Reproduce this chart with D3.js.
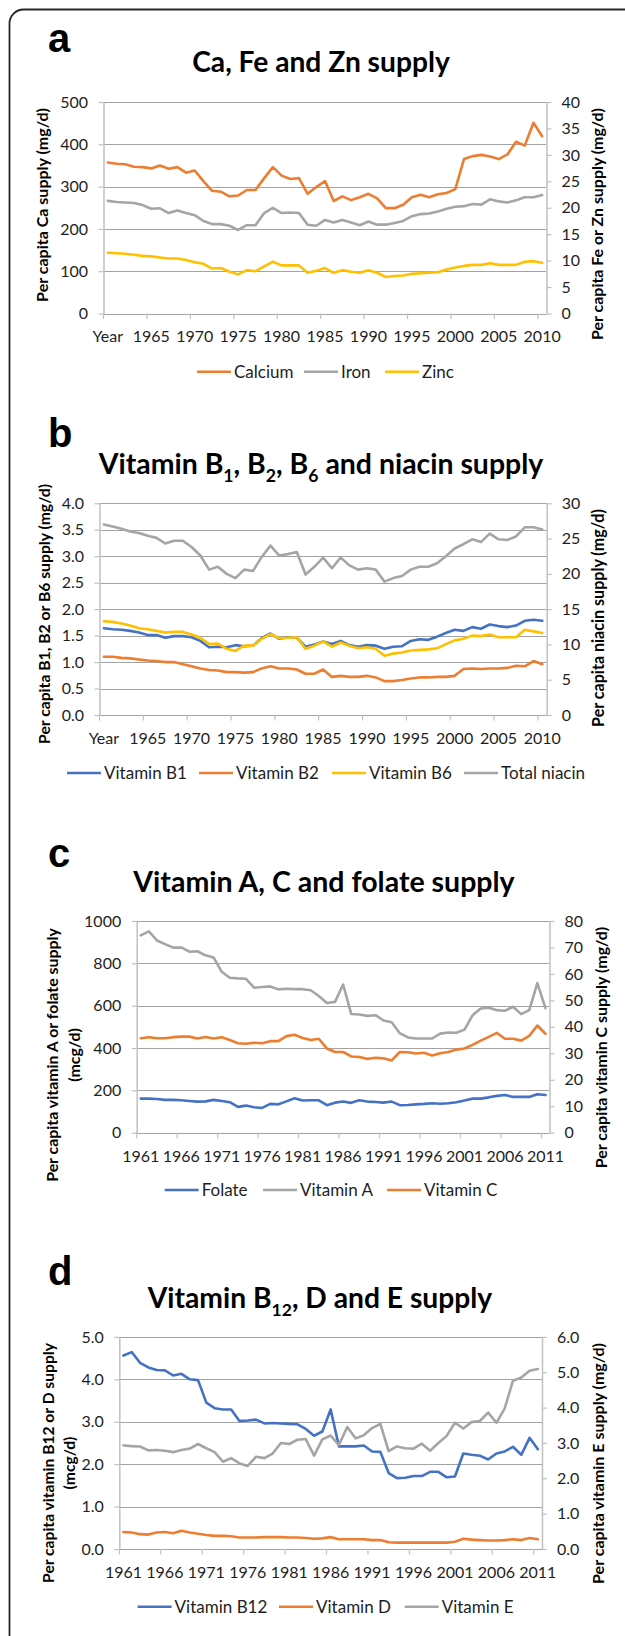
<!DOCTYPE html>
<html><head><meta charset="utf-8">
<script src="https://cdn.jsdelivr.net/npm/d3@7"></script>
<style>body{margin:0;background:#fff}svg{display:block}</style>
</head><body>
<svg id="c" width="625" height="1636"></svg>
<script>
// ---------- DATA ----------
const catsAB = ["Year"].concat(d3.range(1961, 2011).map(String));   // panels a, b
const catsCD = d3.range(1961, 2012).map(String);                    // panels c, d

const calcium = [357,354,353,347,346,343,350,342,346,333, 338,313,290,288,277,279,292,292,320,346, 326,318,320,283,299,313,266,277,268,275, 283,272,249,249,257,275,281,275,282,285, 294,365,372,375,371,365,376,406,397,451, 419];
const iron = [21.3,21.1,21.0,20.9,20.5,19.8,19.9,19.0,19.5,19.0, 18.6,17.5,16.9,16.9,16.6,15.8,16.7,16.7,19.0,20.0, 19.0,19.1,19.0,16.8,16.6,17.7,17.2,17.7,17.2,16.7, 17.4,16.8,16.8,17.1,17.5,18.4,18.8,18.9,19.3,19.8, 20.2,20.3,20.7,20.6,21.6,21.2,21.0,21.4,22.0,22.0, 22.4];
const zinc = [11.5,11.4,11.3,11.1,10.9,10.8,10.6,10.4,10.4,10.1, 9.7,9.4,8.5,8.6,7.9,7.4,8.2,8.0,8.9,9.8, 9.1,9.1,9.1,7.7,8.1,8.6,7.7,8.2,7.9,7.7, 8.2,7.7,6.9,7.1,7.2,7.5,7.6,7.7,7.8,8.3, 8.7,9.0,9.2,9.2,9.5,9.2,9.2,9.2,9.8,9.9, 9.6];

const vitB1 = [1.64,1.62,1.61,1.59,1.56,1.51,1.51,1.46,1.49,1.49, 1.47,1.40,1.28,1.29,1.28,1.32,1.30,1.31,1.45,1.54, 1.44,1.47,1.46,1.29,1.33,1.39,1.34,1.40,1.32,1.29, 1.32,1.31,1.25,1.29,1.30,1.40,1.43,1.42,1.48,1.55, 1.61,1.59,1.66,1.63,1.71,1.68,1.66,1.69,1.78,1.80, 1.78];
const vitB2 = [1.10,1.10,1.08,1.07,1.05,1.03,1.02,1.00,1.00,0.96, 0.92,0.88,0.85,0.84,0.81,0.81,0.80,0.81,0.88,0.92, 0.88,0.88,0.86,0.78,0.78,0.86,0.72,0.74,0.72,0.72, 0.74,0.71,0.64,0.64,0.66,0.69,0.71,0.71,0.72,0.72, 0.74,0.87,0.88,0.87,0.88,0.88,0.89,0.93,0.92,1.02, 0.96];
const vitB6 = [1.77,1.76,1.73,1.69,1.64,1.62,1.59,1.56,1.57,1.57, 1.52,1.46,1.34,1.35,1.25,1.21,1.31,1.31,1.44,1.53, 1.45,1.46,1.47,1.25,1.31,1.39,1.29,1.37,1.31,1.26, 1.28,1.25,1.12,1.16,1.18,1.22,1.23,1.24,1.26,1.34, 1.41,1.44,1.50,1.49,1.52,1.47,1.47,1.47,1.61,1.58, 1.55];
const niacin = [27.0,26.7,26.4,26.0,25.8,25.4,25.1,24.3,24.7,24.7, 23.8,22.6,20.6,21.0,20.0,19.4,20.6,20.4,22.4,24.0, 22.6,22.8,23.1,19.9,21.0,22.3,20.8,22.3,21.2,20.6, 20.8,20.6,18.9,19.4,19.7,20.6,21.0,21.0,21.5,22.5, 23.6,24.2,24.9,24.5,25.7,24.9,24.8,25.3,26.6,26.6, 26.3];

const folate = [161,161,159,155,155,153,150,147,148,155, 150,144,122,128,120,117,136,134,148,163, 152,153,153,130,142,147,141,153,147,145, 142,147,130,131,134,136,139,137,139,144, 152,161,161,167,174,178,169,169,169,182, 178];
const vitA = [932,951,908,891,874,875,855,857,838,828, 760,732,729,727,685,688,691,677,680,678, 678,673,646,613,618,700,561,558,552,555, 530,522,470,450,445,445,445,468,473,472, 487,555,587,590,579,576,595,560,579,707, 588];
const vitC = [35.7,36.1,35.7,35.7,36.1,36.3,36.3,35.6,36.2,35.6, 36.1,35.0,33.8,33.6,34.0,33.8,34.6,34.6,36.5,37.0, 35.8,35.0,35.5,31.8,30.5,30.5,28.8,28.6,27.9,28.3, 28.1,27.3,30.5,30.4,29.9,30.2,29.2,30.0,30.5,31.4, 31.8,33.2,34.8,36.2,37.7,35.5,35.5,34.8,36.6,40.5, 37.4];

const vitB12 = [4.56,4.64,4.39,4.28,4.22,4.21,4.09,4.13,4.00,3.98, 3.45,3.32,3.29,3.29,3.02,3.03,3.05,2.96,2.97,2.96, 2.95,2.94,2.83,2.67,2.77,3.29,2.42,2.42,2.42,2.44, 2.30,2.29,1.79,1.67,1.68,1.72,1.72,1.82,1.82,1.69, 1.71,2.25,2.22,2.20,2.11,2.25,2.30,2.41,2.22,2.62, 2.35];
const vitD = [0.40,0.39,0.35,0.34,0.39,0.40,0.37,0.43,0.39,0.36, 0.33,0.31,0.31,0.30,0.27,0.27,0.27,0.28,0.28,0.28, 0.27,0.27,0.26,0.24,0.25,0.28,0.23,0.23,0.23,0.23, 0.21,0.21,0.16,0.15,0.15,0.15,0.15,0.15,0.15,0.15, 0.17,0.24,0.22,0.21,0.20,0.20,0.21,0.23,0.21,0.26, 0.23];
const vitE = [2.93,2.91,2.90,2.79,2.80,2.78,2.74,2.80,2.84,2.97, 2.85,2.74,2.47,2.57,2.42,2.35,2.61,2.57,2.70,3.00, 2.97,3.09,3.11,2.64,3.10,3.21,2.94,3.45,3.13,3.22, 3.42,3.54,2.77,2.90,2.85,2.84,2.98,2.78,3.00,3.20, 3.57,3.41,3.59,3.62,3.86,3.57,3.98,4.76,4.85,5.04, 5.09];

// tick values
const ticksALeft = [0,100,200,300,400,500];
const ticksARight = [0,5,10,15,20,25,30,35,40];
const ticksBLeft = [0,0.5,1.0,1.5,2.0,2.5,3.0,3.5,4.0];
const ticksBRight = [0,5,10,15,20,25,30];
const ticksCLeft = [0,200,400,600,800,1000];
const ticksCRight = [0,10,20,30,40,50,60,70,80];
const ticksDLeft = [0,1,2,3,4,5];
const ticksDRight = [0,1,2,3,4,5,6];

// ---------- STYLE ----------
const BLUE = "#4472C4", ORANGE = "#ED7D31", GRAY = "#A5A5A5", YELLOW = "#FFC000";
const GRID = "#a3a3a3", AXIS = "#c0c0c0", TXT = "#1e1e1e";
const FONT = "Lato, 'Open Sans', sans-serif";
const TICK_FS = 16, LEG_FS = 17;

const panels = [
  { label: "a", labelX: 48, labelY: 52,
    title: [{t: "Ca, Fe and Zn supply"}], titleX: 321, titleY: 72, titleW: 258,
    cats: catsAB, box: {l: 103.5, r: 546.5, t: 102, b: 313.5}, xLabelY: 340,
    left: {domain: [0, 500], ticks: ticksALeft, fmt: d3.format("d")},
    right: {domain: [0, 40], ticks: ticksARight, fmt: d3.format("d")},
    series: [{name: "Calcium", v: calcium, c: ORANGE, ax: "L"},
             {name: "Iron", v: iron, c: GRAY, ax: "R"},
             {name: "Zinc", v: zinc, c: YELLOW, ax: "R"}],
    legendY: 371.7, legendX: [197, 304, 385],
    lTitle: {lines: ["Per capita Ca supply (mg/d)"], xs: [41.7], cy: 205, len: 194},
    rTitle: {lines: ["Per capita Fe or Zn supply (mg/d)"], xs: [596.7], cy: 224, len: 232} },
  { label: "b", labelX: 48, labelY: 447,
    title: [{t: "Vitamin B"}, {t: "1", sub: 1}, {t: ", B"}, {t: "2", sub: 1}, {t: ", B"}, {t: "6", sub: 1}, {t: " and niacin supply"}],
    titleX: 321, titleY: 474, titleW: 446,
    cats: catsAB, box: {l: 99.5, r: 546.7, t: 503.3, b: 715}, xLabelY: 742.7,
    left: {domain: [0, 4], ticks: ticksBLeft, fmt: d3.format(".1f")},
    right: {domain: [0, 30], ticks: ticksBRight, fmt: d3.format("d")},
    series: [{name: "Vitamin B1", v: vitB1, c: BLUE, ax: "L"},
             {name: "Vitamin B2", v: vitB2, c: ORANGE, ax: "L"},
             {name: "Vitamin B6", v: vitB6, c: YELLOW, ax: "L"},
             {name: "Total niacin", v: niacin, c: GRAY, ax: "R"}],
    legendY: 773, legendX: [67, 199, 332, 464],
    lTitle: {lines: ["Per capita B1, B2 or B6 supply (mg/d)"], xs: [43], cy: 614, len: 260},
    rTitle: {lines: ["Per capita niacin supply (mg/d)"], xs: [597], cy: 618, len: 218} },
  { label: "c", labelX: 48, labelY: 866.7,
    title: [{t: "Vitamin A, C and folate supply"}], titleX: 324, titleY: 892, titleW: 383,
    cats: catsCD, box: {l: 136.7, r: 549.5, t: 921, b: 1132.7}, xLabelY: 1160,
    left: {domain: [0, 1000], ticks: ticksCLeft, fmt: d3.format("d")},
    right: {domain: [0, 80], ticks: ticksCRight, fmt: d3.format("d")},
    series: [{name: "Folate", v: folate, c: BLUE, ax: "L"},
             {name: "Vitamin A", v: vitA, c: GRAY, ax: "L"},
             {name: "Vitamin C", v: vitC, c: ORANGE, ax: "R"}],
    legendY: 1190, legendX: [164.7, 263, 387],
    lTitle: {lines: ["Per capita vitamin A or folate supply", "(mcg/d)"], xs: [51.8, 73.8], cy: 1055, len: 254},
    rTitle: {lines: ["Per capita vitamin C supply (mg/d)"], xs: [600], cy: 1047.5, len: 241.6} },
  { label: "d", labelX: 48, labelY: 1285,
    title: [{t: "Vitamin B"}, {t: "12", sub: 1}, {t: ", D and E supply"}], titleX: 320, titleY: 1308.3, titleW: 346,
    cats: catsCD, box: {l: 119.3, r: 542, t: 1336.9, b: 1549}, xLabelY: 1576,
    left: {domain: [0, 5], ticks: ticksDLeft, fmt: d3.format(".1f")},
    right: {domain: [0, 6], ticks: ticksDRight, fmt: d3.format(".1f")},
    series: [{name: "Vitamin B12", v: vitB12, c: BLUE, ax: "L"},
             {name: "Vitamin D", v: vitD, c: ORANGE, ax: "L"},
             {name: "Vitamin E", v: vitE, c: GRAY, ax: "R"}],
    legendY: 1606.7, legendX: [137.6, 279, 404.7],
    lTitle: {lines: ["Per capita vitamin B12 or D supply", "(mcg/d)"], xs: [47.8, 68.6], cy: 1463, len: 240},
    rTitle: {lines: ["Per capita vitamin E supply (mg/d)"], xs: [597], cy: 1463.5, len: 241} }
];

// ---------- DRAW ----------
const svg = d3.select("#c");
svg.append("rect").attr("x", 9.5).attr("y", 9.5).attr("width", 720).attr("height", 1700)
  .attr("rx", 14).attr("fill", "none").attr("stroke", "#262626").attr("stroke-width", 1.8);

function fitTo(sel, target) {
  const w = sel.node().getBBox().width;
  const fs = parseFloat(sel.style("font-size"));
  const nfs = fs * target / w;
  sel.style("font-size", nfs + "px");
  return nfs;
}

panels.forEach(p => {
  const g = svg.append("g");
  const x = d3.scaleBand().domain(p.cats).range([p.box.l, p.box.r]);
  const cx = c => x(c) + x.bandwidth() / 2;
  const yL = d3.scaleLinear().domain(p.left.domain).range([p.box.b, p.box.t]);
  const yR = d3.scaleLinear().domain(p.right.domain).range([p.box.b, p.box.t]);

  // panel letter
  g.append("text").attr("x", p.labelX).attr("y", p.labelY).text(p.label)
    .style("font-family", "'Liberation Sans', Arial, sans-serif").style("font-weight", "bold")
    .style("font-size", "40px").attr("fill", "#000");

  // title
  const tt = g.append("text").attr("x", p.titleX).attr("y", p.titleY).attr("text-anchor", "middle")
    .style("font-family", FONT).style("font-weight", "bold").style("font-size", "26px").attr("fill", "#000");
  let prevSub = false;
  p.title.forEach(part => {
    const ts = tt.append("tspan").text(part.t);
    if (part.sub) { ts.style("font-size", "62%").attr("dy", "0.45em"); prevSub = true; }
    else if (prevSub) { ts.attr("dy", "-0.28em"); prevSub = false; }
  });
  fitTo(tt, p.titleW);

  // gridlines
  g.append("g").selectAll("line").data(p.left.ticks).join("line")
    .attr("x1", p.box.l).attr("x2", p.box.r)
    .attr("y1", d => Math.round(yL(d)) + 0.5).attr("y2", d => Math.round(yL(d)) + 0.5)
    .attr("stroke", GRID).attr("stroke-width", 1);

  // y axes
  const styleAxis = a => {
    a.attr("font-family", FONT).attr("font-size", TICK_FS);
    a.select(".domain").attr("stroke", AXIS).attr("stroke-width", 1.5);
    a.selectAll(".tick line").attr("stroke", AXIS).attr("stroke-width", 1.2);
    a.selectAll(".tick text").attr("fill", TXT);
  };
  g.append("g").attr("transform", `translate(${p.box.l},0)`)
    .call(d3.axisLeft(yL).tickValues(p.left.ticks).tickFormat(p.left.fmt).tickSize(5).tickSizeOuter(0).tickPadding(10.5))
    .call(styleAxis);
  g.append("g").attr("transform", `translate(${p.box.r},0)`)
    .call(d3.axisRight(yR).tickValues(p.right.ticks).tickFormat(p.right.fmt).tickSize(5).tickSizeOuter(0).tickPadding(10))
    .call(styleAxis);

  // x axis: ticks at category boundaries every 5, labels at category centres
  const tickCats = p.cats.filter((c, i) => i % 5 === 0);
  g.append("g").selectAll("line").data(tickCats).join("line")
    .attr("x1", d => x(d)).attr("x2", d => x(d)).attr("y1", p.box.b).attr("y2", p.box.b + 5.5)
    .attr("stroke", AXIS).attr("stroke-width", 1.2);
  g.append("g").selectAll("text").data(tickCats).join("text")
    .attr("x", d => cx(d)).attr("y", p.xLabelY + 1.5).attr("text-anchor", "middle")
    .style("font-family", FONT).style("font-size", TICK_FS + "px").attr("fill", TXT).text(d => d);

  // series
  p.series.forEach(s => {
    const y = s.ax === "L" ? yL : yR;
    const line = d3.line().x((v, i) => cx(p.cats[i])).y(v => y(v));
    g.append("path").datum(s.v).attr("d", line).attr("fill", "none")
      .attr("stroke", s.c).attr("stroke-width", 2.6).attr("stroke-linejoin", "round").attr("stroke-linecap", "round");
  });

  // legend
  p.series.forEach((s, i) => {
    const lx = p.legendX[i];
    g.append("line").attr("x1", lx).attr("x2", lx + 34).attr("y1", p.legendY).attr("y2", p.legendY)
      .attr("stroke", s.c).attr("stroke-width", 2.6);
    g.append("text").attr("x", lx + 37).attr("y", p.legendY).attr("dy", "0.35em")
      .style("font-family", FONT).style("font-size", LEG_FS + "px").attr("fill", TXT).text(s.name);
  });

  // axis titles
  [p.lTitle, p.rTitle].forEach(at => {
    let fs = null;
    at.lines.forEach((ln, k) => {
      const t = g.append("text")
        .attr("transform", `translate(${at.xs[k]},${at.cy}) rotate(-90)`)
        .attr("text-anchor", "middle").attr("dominant-baseline", "central")
        .style("font-family", FONT).style("font-weight", "bold").style("font-size", "15px")
        .attr("fill", "#000").text(ln);
      if (k === 0) fs = fitTo(t, at.len); else t.style("font-size", fs + "px");
    });
  });
});
</script>
</body></html>
